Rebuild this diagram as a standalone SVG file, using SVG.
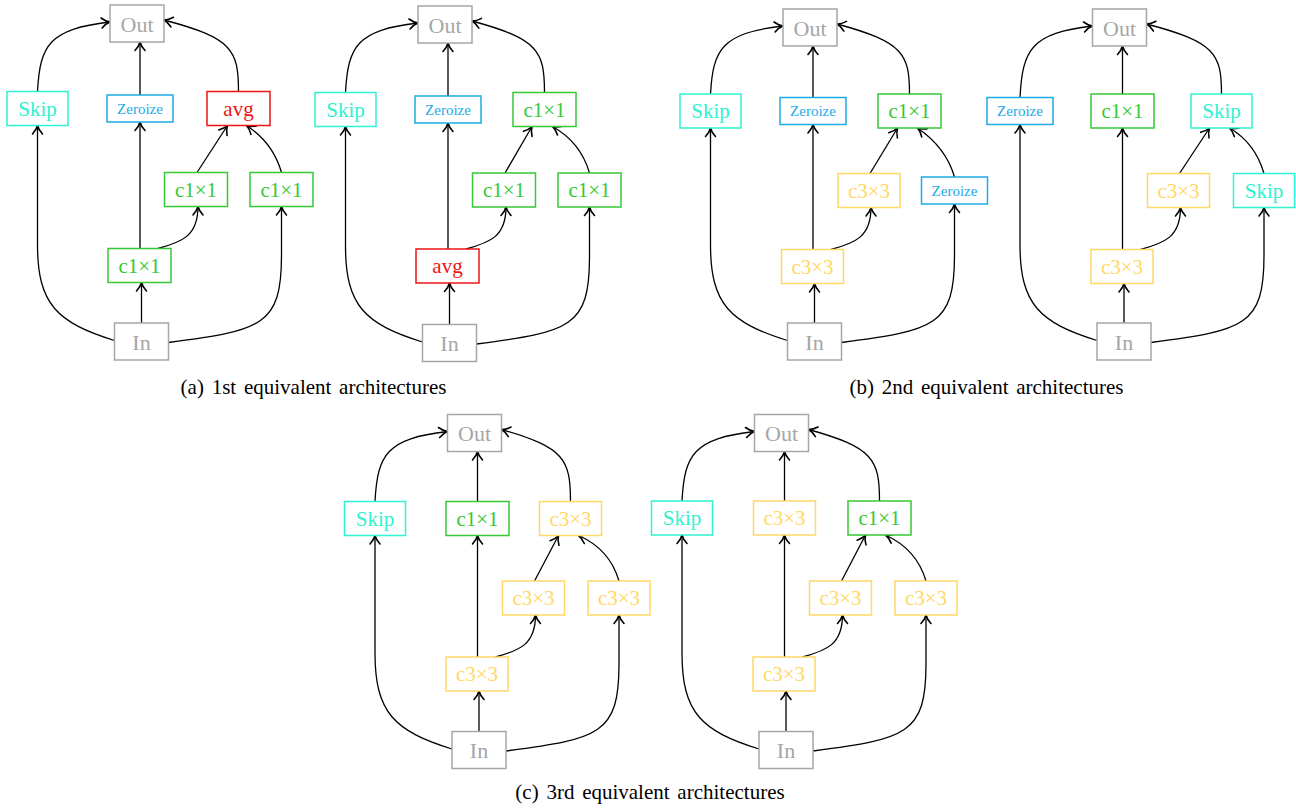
<svg xmlns="http://www.w3.org/2000/svg" width="1296" height="808" viewBox="0 0 1296 808">
<style>
text{font-family:"Liberation Serif","Times New Roman",serif;text-anchor:middle}
.n rect{fill:#fff;stroke-width:1.5}
.t{font-size:21px}
.z{font-size:15px}
.gray rect{stroke:#a6a6a6}.gray text{fill:#a6a6a6;font-size:22px}
.cy rect{stroke:#2ef2d0}.cy text{fill:#2ef2d0}
.bl rect{stroke:#1eaae6}.bl text{fill:#1eaae6}
.gr rect{stroke:#35c935}.gr text{fill:#35c935}
.rd rect{stroke:#ee1414}.rd text{fill:#ee1414}
.ye rect{stroke:#ffd866}.ye text{fill:#ffd866}
#connectors path{fill:none;stroke:#000;stroke-width:1.3;marker-end:url(#ah)}
.cap{font-size:21px;fill:#000;word-spacing:2.5px}
</style>
<defs>
<marker id="ah" markerUnits="userSpaceOnUse" markerWidth="16" markerHeight="16" viewBox="-12 -8 16 16" refX="0" refY="0" orient="auto" overflow="visible">
<path d="M-8.5,-5 C-5.5,-2.2 -2.5,-0.6 0,0 C-2.5,0.6 -5.5,2.2 -8.5,5" fill="none" stroke="#000" stroke-width="1.6" stroke-linecap="round" stroke-linejoin="round"/>
</marker>
</defs>

<g id="connectors">
<g id="edges-a1">
<path d="M114.5,340.5 C57,322.5 37.5,304.5 37.5,244.5 L37.5,125.5"/>
<path d="M37.5,91.5 C40,45 49,29 110,22"/>
<path d="M238.5,91.5 C238.5,50 232.5,38 164,20"/>
<path d="M141.5,323 L141.5,282.5"/>
<path d="M140,248.5 L140,122"/>
<path d="M140,95 L140,42"/>
<path d="M168.5,342.5 C262,330.5 281.5,325.5 281.5,255.5 L281.5,206.5"/>
<path d="M158,248.5 C182,242 198,236 198,206.5"/>
<path d="M197,172.5 L227.5,125.5"/>
<path d="M281.5,172.5 C276,153.5 265,137.5 246.5,125.5"/>
</g>
<g id="edges-a2">
<path d="M422.5,342 C365,324 345.5,306 345.5,246 L345.5,126.5"/>
<path d="M345.5,92.5 C348,46 357,30 418,23"/>
<path d="M544.5,92.5 C544.5,51 538.5,39 472,21"/>
<path d="M449.5,324.5 L449.5,283"/>
<path d="M448,249 L448,123"/>
<path d="M448,96 L448,43"/>
<path d="M476.5,344 C570,332 589.5,327 589.5,257 L589.5,207"/>
<path d="M466,249 C490,242.5 506,236.5 506,207"/>
<path d="M505,173 L532,126.5"/>
<path d="M589.5,173 C584,154 573,138 552.5,126.5"/>
</g>
<g id="edges-b1">
<path d="M787.5,340.5 C730,322.5 710.5,304.5 710.5,244.5 L710.5,128"/>
<path d="M710.5,94 C713,49 722,33 783,26"/>
<path d="M909.5,94 C909.5,54 903.5,42 837,24"/>
<path d="M814.5,323 L814.5,283.5"/>
<path d="M813,249.5 L813,124.5"/>
<path d="M813,97.5 L813,46"/>
<path d="M841.5,342.5 C935,330.5 954.5,325.5 954.5,255.5 L954.5,204"/>
<path d="M831,249.5 C855,243 871,237 871,207.5"/>
<path d="M870,173.5 L897.5,128"/>
<path d="M954.5,177 C949,158 938,142 917.5,128"/>
</g>
<g id="edges-b2">
<path d="M1097,340.5 C1039.5,322.5 1020,304.5 1020,244.5 L1020,124.5"/>
<path d="M1020,97.5 C1022.5,49 1031.5,33 1092.5,26"/>
<path d="M1221.5,94 C1221.5,54 1215.5,42 1146.5,24"/>
<path d="M1124,323 L1124,283.5"/>
<path d="M1122.5,249.5 L1122.5,128"/>
<path d="M1122.5,94 L1122.5,46"/>
<path d="M1151,342.5 C1244.5,330.5 1264,325.5 1264,255.5 L1264,207.5"/>
<path d="M1140.5,249.5 C1164.5,243 1180.5,237 1180.5,207.5"/>
<path d="M1179.5,173.5 L1209.5,128"/>
<path d="M1264,173.5 C1258.5,154.5 1247.5,138.5 1229.5,128"/>
</g>
<g id="edges-c1">
<path d="M452,749 C394.5,731 375,713 375,653 L375,535.5"/>
<path d="M375,501.5 C377.5,454.5 386.5,438.5 447.5,431.5"/>
<path d="M570.5,501.5 C570.5,459.5 564.5,447.5 501.5,429.5"/>
<path d="M479,731.5 L479,691"/>
<path d="M477.5,657 L477.5,535.5"/>
<path d="M477.5,501.5 L477.5,451.5"/>
<path d="M506,751 C599.5,739 619,734 619,664 L619,615"/>
<path d="M495.5,657 C519.5,650.5 535.5,644.5 535.5,615"/>
<path d="M534.5,581 L558.5,535.5"/>
<path d="M619,581 C613.5,562 602.5,546 578.5,535.5"/>
</g>
<g id="edges-c2">
<path d="M759,749 C701.5,731 682,713 682,653 L682,535"/>
<path d="M682,501 C684.5,454.5 693.5,438.5 754.5,431.5"/>
<path d="M879.5,501 C879.5,459.5 873.5,447.5 808.5,429.5"/>
<path d="M786,731.5 L786,691"/>
<path d="M784.5,657 L784.5,535"/>
<path d="M784.5,501 L784.5,451.5"/>
<path d="M813,751 C906.5,739 926,734 926,664 L926,615"/>
<path d="M802.5,657 C826.5,650.5 842.5,644.5 842.5,615"/>
<path d="M841.5,581 L865.5,535"/>
<path d="M926,581 C920.5,562 909.5,546 885.5,535"/>
</g>
</g>

<!-- (a) left -->
<g id="a1-out" class="n gray"><rect x="110" y="5" width="54" height="37"/><text x="137" y="31.5">Out</text></g>
<g id="a1-skip" class="n cy"><rect x="7" y="91.5" width="61" height="34"/><text class="t" x="37.5" y="115.5">Skip</text></g>
<g id="a1-zeroize" class="n bl"><rect x="107" y="95" width="66" height="27"/><text class="z" x="140" y="113.5">Zeroize</text></g>
<g id="a1-avg" class="n rd"><rect x="207" y="91.5" width="63" height="34"/><text class="t" x="238.5" y="115.5">avg</text></g>
<g id="a1-mid" class="n gr"><rect x="164.5" y="172.5" width="63" height="34"/><text class="t" x="196" y="196.5">c1×1</text></g>
<g id="a1-right" class="n gr"><rect x="250" y="172.5" width="63" height="34"/><text class="t" x="281.5" y="196.5">c1×1</text></g>
<g id="a1-bottom" class="n gr"><rect x="108" y="248.5" width="63" height="34"/><text class="t" x="139.5" y="272.5">c1×1</text></g>
<g id="a1-in" class="n gray"><rect x="114.5" y="323" width="54" height="37"/><text x="141.5" y="349.5">In</text></g>

<!-- (a) right -->
<g id="a2-out" class="n gray"><rect x="418" y="6" width="54" height="37"/><text x="445" y="32.5">Out</text></g>
<g id="a2-skip" class="n cy"><rect x="315" y="92.5" width="61" height="34"/><text class="t" x="345.5" y="116.5">Skip</text></g>
<g id="a2-zeroize" class="n bl"><rect x="415" y="96" width="66" height="27"/><text class="z" x="448" y="114.5">Zeroize</text></g>
<g id="a2-top" class="n gr"><rect x="513" y="92.5" width="63" height="34"/><text class="t" x="544.5" y="116.5">c1×1</text></g>
<g id="a2-mid" class="n gr"><rect x="472.5" y="173" width="63" height="34"/><text class="t" x="504" y="197">c1×1</text></g>
<g id="a2-right" class="n gr"><rect x="558" y="173" width="63" height="34"/><text class="t" x="589.5" y="197">c1×1</text></g>
<g id="a2-avg" class="n rd"><rect x="416" y="249" width="63" height="34"/><text class="t" x="447.5" y="273">avg</text></g>
<g id="a2-in" class="n gray"><rect x="422.5" y="324.5" width="54" height="37"/><text x="449.5" y="351">In</text></g>

<!-- (b) left -->
<g id="b1-out" class="n gray"><rect x="783" y="9" width="54" height="37"/><text x="810" y="35.5">Out</text></g>
<g id="b1-skip" class="n cy"><rect x="680" y="94" width="61" height="34"/><text class="t" x="710.5" y="118">Skip</text></g>
<g id="b1-zeroize" class="n bl"><rect x="780" y="97.5" width="66" height="27"/><text class="z" x="813" y="116">Zeroize</text></g>
<g id="b1-top" class="n gr"><rect x="878" y="94" width="63" height="34"/><text class="t" x="909.5" y="118">c1×1</text></g>
<g id="b1-mid" class="n ye"><rect x="838" y="173.5" width="62" height="34"/><text class="t" x="869" y="197.5">c3×3</text></g>
<g id="b1-right" class="n bl"><rect x="921.5" y="177" width="66" height="27"/><text class="z" x="954.5" y="195.5">Zeroize</text></g>
<g id="b1-bottom" class="n ye"><rect x="781.5" y="249.5" width="62" height="34"/><text class="t" x="812.5" y="273.5">c3×3</text></g>
<g id="b1-in" class="n gray"><rect x="787.5" y="323" width="54" height="37"/><text x="814.5" y="349.5">In</text></g>

<!-- (b) right -->
<g id="b2-out" class="n gray"><rect x="1092.5" y="9" width="54" height="37"/><text x="1119.5" y="35.5">Out</text></g>
<g id="b2-zeroize" class="n bl"><rect x="987" y="97.5" width="66" height="27"/><text class="z" x="1020" y="116">Zeroize</text></g>
<g id="b2-c1" class="n gr"><rect x="1091" y="94" width="63" height="34"/><text class="t" x="1122.5" y="118">c1×1</text></g>
<g id="b2-skip-top" class="n cy"><rect x="1191" y="94" width="61" height="34"/><text class="t" x="1221.5" y="118">Skip</text></g>
<g id="b2-mid" class="n ye"><rect x="1147.5" y="173.5" width="62" height="34"/><text class="t" x="1178.5" y="197.5">c3×3</text></g>
<g id="b2-skip-right" class="n cy"><rect x="1233.5" y="173.5" width="61" height="34"/><text class="t" x="1264" y="197.5">Skip</text></g>
<g id="b2-bottom" class="n ye"><rect x="1091" y="249.5" width="62" height="34"/><text class="t" x="1122" y="273.5">c3×3</text></g>
<g id="b2-in" class="n gray"><rect x="1097" y="323" width="54" height="37"/><text x="1124" y="349.5">In</text></g>

<!-- (c) left -->
<g id="c1-out" class="n gray"><rect x="447.5" y="414.5" width="54" height="37"/><text x="474.5" y="441">Out</text></g>
<g id="c1-skip" class="n cy"><rect x="344.5" y="501.5" width="61" height="34"/><text class="t" x="375" y="525.5">Skip</text></g>
<g id="c1-c1" class="n gr"><rect x="446" y="501.5" width="63" height="34"/><text class="t" x="477.5" y="525.5">c1×1</text></g>
<g id="c1-top" class="n ye"><rect x="539.5" y="501.5" width="62" height="34"/><text class="t" x="570.5" y="525.5">c3×3</text></g>
<g id="c1-mid" class="n ye"><rect x="502.5" y="581" width="62" height="34"/><text class="t" x="533.5" y="605">c3×3</text></g>
<g id="c1-right" class="n ye"><rect x="588" y="581" width="62" height="34"/><text class="t" x="619" y="605">c3×3</text></g>
<g id="c1-bottom" class="n ye"><rect x="446" y="657" width="62" height="34"/><text class="t" x="477" y="681">c3×3</text></g>
<g id="c1-in" class="n gray"><rect x="452" y="731.5" width="54" height="37"/><text x="479" y="758">In</text></g>

<!-- (c) right -->
<g id="c2-out" class="n gray"><rect x="754.5" y="414.5" width="54" height="37"/><text x="781.5" y="441">Out</text></g>
<g id="c2-skip" class="n cy"><rect x="651.5" y="501" width="61" height="34"/><text class="t" x="682" y="525">Skip</text></g>
<g id="c2-c3" class="n ye"><rect x="753.5" y="501" width="62" height="34"/><text class="t" x="784.5" y="525">c3×3</text></g>
<g id="c2-top" class="n gr"><rect x="848" y="501" width="63" height="34"/><text class="t" x="879.5" y="525">c1×1</text></g>
<g id="c2-mid" class="n ye"><rect x="809.5" y="581" width="62" height="34"/><text class="t" x="840.5" y="605">c3×3</text></g>
<g id="c2-right" class="n ye"><rect x="895" y="581" width="62" height="34"/><text class="t" x="926" y="605">c3×3</text></g>
<g id="c2-bottom" class="n ye"><rect x="753" y="657" width="62" height="34"/><text class="t" x="784" y="681">c3×3</text></g>
<g id="c2-in" class="n gray"><rect x="759" y="731.5" width="54" height="37"/><text x="786" y="758">In</text></g>

<g id="captions">
<text class="cap" x="313.5" y="394">(a) 1st equivalent architectures</text>
<text class="cap" x="986.5" y="394">(b) 2nd equivalent architectures</text>
<text class="cap" x="650" y="799">(c) 3rd equivalent architectures</text>
</g>
</svg>
